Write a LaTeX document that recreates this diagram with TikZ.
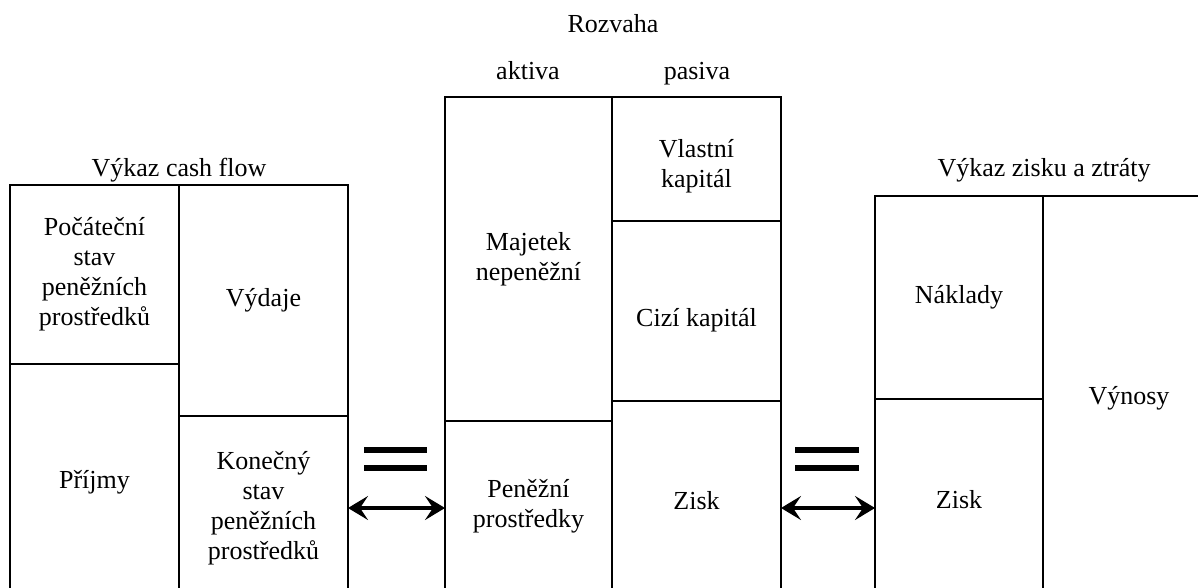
\documentclass[tikz,border=0pt]{standalone}
\usepackage{fontspec}
\setmainfont{Liberation Serif}
\usetikzlibrary{arrows.meta}
\begin{document}
\begin{tikzpicture}[x=1pt,y=-1pt,
  box/.style={draw, line width=1.3pt, inner sep=0pt, outer sep=0pt, align=center,
    font=\fontsize{26}{30}\selectfont},
  lbl/.style={inner sep=0pt, align=center, font=\fontsize{26}{30}\selectfont},
  ttl/.style={inner sep=0pt, anchor=base, font=\fontsize{26}{30}\selectfont},
  eqbar/.style={line width=6pt},
  dblarrow/.style={line width=4pt, {Stealth[length=20pt,width=24pt,inset=8pt]}-{Stealth[length=20pt,width=24pt,inset=8pt]}}
]
\clip (0,0) rectangle (1198,588);
\fill[white] (0,0) rectangle (1198,588);
% titles
\node[ttl] (tRoz) at (613,33) {Rozvaha};
\node[ttl] (tAkt) at (528,80) {aktiva};
\node[ttl] (tPas) at (697,80) {pasiva};
\node[ttl] (tCF) at (179,176) {Výkaz cash flow};
\node[ttl] (tZZ) at (1044,176) {Výkaz zisku a ztráty};
% cash flow
\node[box, minimum width=169pt, minimum height=179pt] (poc) at (94.5,274.5) {Počáteční\\stav\\peněžních\\prostředků};
\node[box, minimum width=169pt, minimum height=236pt] (pri) at (94.5,482) {Příjmy};
\node[box, minimum width=169pt, minimum height=231pt] (vyd) at (263.5,300.5) {Výdaje};
\node[box, minimum width=169pt, minimum height=184pt] (kon) at (263.5,508) {Konečný\\stav\\peněžních\\prostředků};
% balance sheet
\node[box, minimum width=167pt, minimum height=324pt] (maj) at (528.5,259) {Majetek\\nepeněžní};
\node[box, minimum width=167pt, minimum height=179pt] (pen) at (528.5,510.5) {};
\node[lbl] (penT) at (528.5,506) {Peněžní\\prostředky};
\node[box, minimum width=169pt, minimum height=124pt] (vla) at (696.5,159) {};
\node[lbl] (vlaT) at (696.5,166) {Vlastní\\kapitál};
\node[box, minimum width=169pt, minimum height=180pt] (ciz) at (696.5,311) {};
\node[lbl] (cizT) at (696.5,320) {Cizí kapitál};
\node[box, minimum width=169pt, minimum height=199pt] (zis) at (696.5,500.5) {Zisk};
% profit and loss
\node[box, minimum width=168pt, minimum height=203pt] (nak) at (959,297.5) {Náklady};
\node[box, minimum width=168pt, minimum height=201pt] (zis2) at (959,499.5) {Zisk};
\node[box, minimum width=172pt, minimum height=404pt] (vyn) at (1129,398) {Výnosy};
% equals signs
\draw[eqbar] (364,450) -- (427,450);
\draw[eqbar] (364,467.5) -- (427,467.5);
\draw[eqbar] (795,450) -- (859,450);
\draw[eqbar] (795,467.5) -- (859,467.5);
% arrows
\coordinate (ylev) at (0,508);
\draw[dblarrow] (kon.east |- ylev) -- (pen.west |- ylev);
\draw[dblarrow] (zis.east |- ylev) -- (zis2.west |- ylev);
\end{tikzpicture}
\end{document}
